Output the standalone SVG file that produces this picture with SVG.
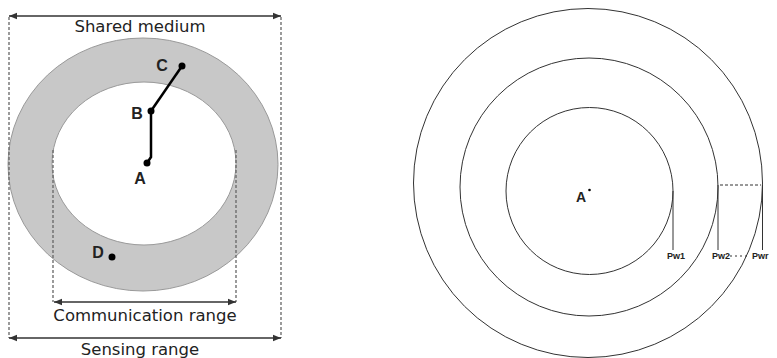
<svg xmlns="http://www.w3.org/2000/svg" width="777" height="358" viewBox="0 0 777 358">
<style>
.lbl{font-family:"Liberation Sans",Arial,sans-serif;fill:#222;}
.big{font-family:"DejaVu Sans",Verdana,sans-serif;font-size:16.5px;}
.node{font-size:16px;font-weight:bold;}
.small{font-size:9px;font-weight:bold;}
.dash{stroke:#666;stroke-width:1.3;stroke-dasharray:3,2;fill:none;}
.arr{stroke:#333;stroke-width:1.3;fill:none;}
.ring{stroke:#333;stroke-width:1;fill:none;}
.link{stroke:#000;stroke-width:2.5;fill:none;}
</style>
<defs>
<marker id="ah" viewBox="0 0 10 10" refX="10" refY="5" markerWidth="8" markerHeight="8" orient="auto-start-reverse" markerUnits="userSpaceOnUse">
<path d="M0,1 L10,5 L0,9 z" fill="#333"/>
</marker>
</defs>
<rect width="777" height="358" fill="#fff"/>
<g id="left-ranges">
<ellipse cx="143" cy="164.5" rx="135" ry="126.5" fill="#c8c8c8" stroke="#999" stroke-width="1"/>
<ellipse cx="144" cy="163.5" rx="92" ry="81.5" fill="#fff" stroke="#999" stroke-width="1"/>
</g>
<g id="connectors">
<line class="dash" x1="9" y1="17" x2="9" y2="338"/>
<line class="dash" x1="281" y1="17" x2="281" y2="338"/>
<line class="dash" x1="53" y1="150" x2="53" y2="302"/>
<line class="dash" x1="236" y1="150" x2="236" y2="302"/>
<line class="arr" x1="9" y1="16" x2="281" y2="16" marker-start="url(#ah)" marker-end="url(#ah)"/>
<line class="arr" x1="54" y1="302" x2="236" y2="302" marker-start="url(#ah)" marker-end="url(#ah)"/>
<line class="arr" x1="9" y1="338" x2="281" y2="338" marker-start="url(#ah)" marker-end="url(#ah)"/>
<line class="link" x1="151" y1="111" x2="182" y2="66"/>
<polyline class="link" points="151,111 151,157 147,163"/>
</g>
<g id="node-C"><circle cx="182" cy="66" r="3.5" fill="#000"/><text class="lbl node" x="162" y="71" text-anchor="middle">C</text></g>
<g id="node-B"><circle cx="151" cy="111" r="3.5" fill="#000"/><text class="lbl node" x="137" y="119" text-anchor="middle">B</text></g>
<g id="node-A"><circle cx="147" cy="163" r="3.5" fill="#000"/><text class="lbl node" x="140" y="184" text-anchor="middle">A</text></g>
<g id="node-D"><circle cx="112" cy="257" r="3.5" fill="#000"/><text class="lbl node" x="98" y="258" text-anchor="middle">D</text></g>
<g id="left-labels">
<text class="lbl big" x="140" y="32" text-anchor="middle">Shared medium</text>
<text class="lbl big" x="145" y="321" text-anchor="middle">Communication range</text>
<text class="lbl big" x="140" y="355" text-anchor="middle">Sensing range</text>
</g>
<g id="right-rings">
<circle class="ring" cx="588" cy="183" r="174.5"/>
<circle class="ring" cx="589" cy="187" r="129"/>
<circle class="ring" cx="589.5" cy="191" r="83.5"/>
</g>
<g id="right-lines">
<line class="ring" x1="673" y1="191" x2="673" y2="250"/>
<line class="ring" x1="718" y1="185" x2="718" y2="250"/>
<line class="ring" x1="762.5" y1="185" x2="762.5" y2="250"/>
<line x1="720" y1="185" x2="761" y2="185" stroke="#333" stroke-width="1" stroke-dasharray="3,2"/>
<line x1="730" y1="256" x2="750" y2="256" stroke="#333" stroke-width="1" stroke-dasharray="2,3"/>
</g>
<g id="node-A2">
<text class="lbl" x="581" y="202" text-anchor="middle" font-size="14" font-weight="bold">A</text>
<circle cx="589.5" cy="190" r="1.3" fill="#000"/>
</g>
<g id="right-labels">
<text class="lbl small" x="667" y="259">Pw1</text>
<text class="lbl small" x="712" y="259">Pw2</text>
<text class="lbl small" x="752" y="259">Pwr</text>
</g>
</svg>
